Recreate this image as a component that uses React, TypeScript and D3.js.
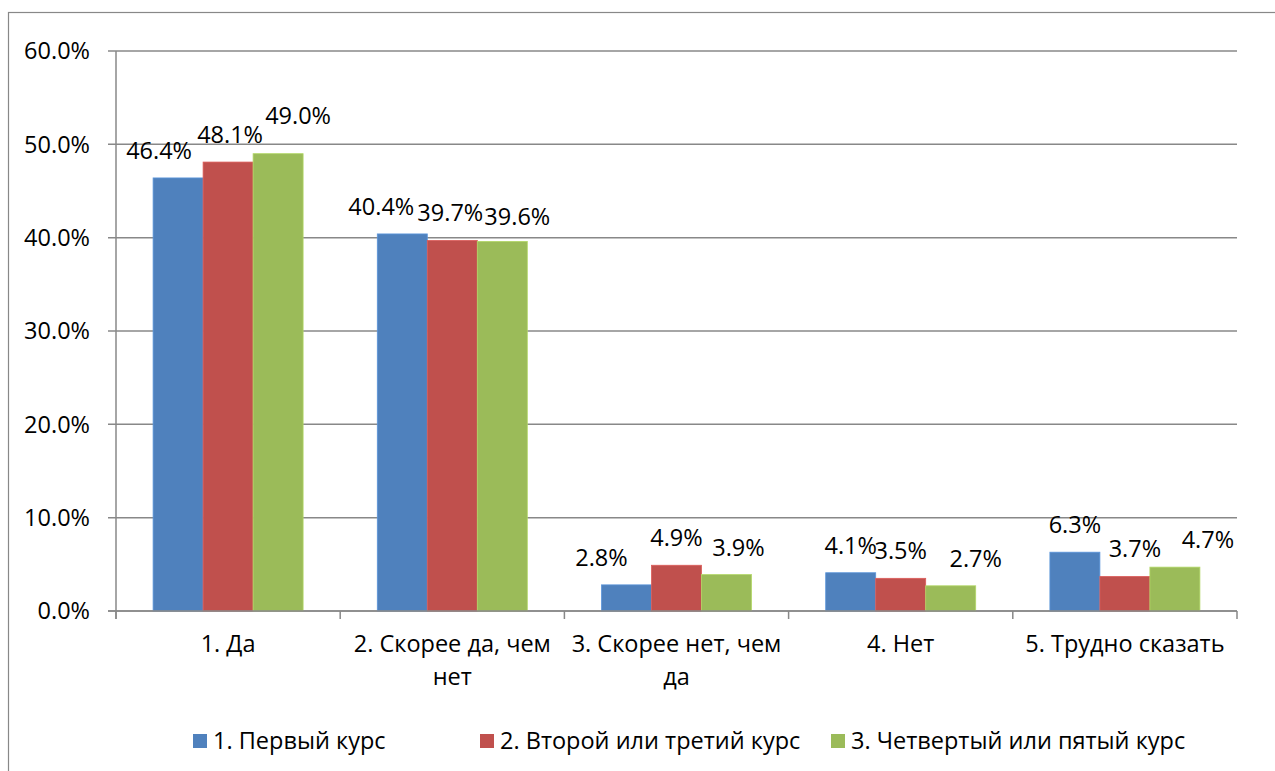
import React, { useEffect, useRef } from "react";
import * as d3 from "d3";

const categories: string[][] = [
  ["1. Да"],
  ["2. Скорее да, чем", "нет"],
  ["3. Скорее нет, чем", "да"],
  ["4. Нет"],
  ["5. Трудно сказать"],
];
const seriesNames = ["1. Первый курс", "2. Второй или третий курс", "3. Четвертый или пятый курс"];
const firstYear = [0.464, 0.404, 0.028, 0.041, 0.063];
const secondThird = [0.481, 0.397, 0.049, 0.035, 0.037];
const fourthFifth = [0.49, 0.396, 0.039, 0.027, 0.047];
const yTicks = [0, 0.1, 0.2, 0.3, 0.4, 0.5, 0.6];

// label nudges (dx, dy) like the hand-moved excel labels
const labelNudge: number[][][] = [
  [[-19, 0], [2, 0], [20, -11]],
  [[-21, 0], [-2, 0], [15, 3]],
  [[-25, 0], [0, 0], [12, 0]],
  [[0, 0], [0, 0], [25, 0]],
  [[0, 0], [10, 0], [33, 0]],
];

const colors = ["#4F81BD", "#C0504D", "#9BBB59"];
const font = "'Open Sans', sans-serif";
const fs = 23.5;

function App() {
  const ref = useRef<SVGSVGElement>(null);

  useEffect(() => {
    const W = 1275, H = 771;
    const svg = d3.select(ref.current).attr("width", W).attr("height", H);
    svg.selectAll("*").remove();

    const left = 116, right = 1237, top = 51, bottom = 611;
    const values = [firstYear, secondThird, fourthFifth];
    const catIdx = categories.map((_, i) => String(i));

    // outer chart border
    svg.append("rect")
      .attr("x", 8.5).attr("y", 12.5)
      .attr("width", W).attr("height", H)
      .attr("fill", "white").attr("stroke", "#888").attr("stroke-width", 1.2);

    const x = d3.scaleBand().domain(catIdx).range([left, right]).paddingInner(0).paddingOuter(0);
    const xs = d3.scaleBand().domain(["0", "1", "2"]).range([0, x.bandwidth()]).paddingInner(0).paddingOuter(0.742);
    const y = d3.scaleLinear().domain([0, 0.6]).range([bottom, top]);

    // gridlines
    svg.append("g").selectAll("line").data(yTicks).join("line")
      .attr("x1", left - 8).attr("x2", right)
      .attr("y1", (d) => y(d)).attr("y2", (d) => y(d))
      .attr("stroke", "#888").attr("stroke-width", 1.5);

    // y labels
    svg.append("g").selectAll("text").data(yTicks).join("text")
      .attr("x", 90).attr("y", (d) => y(d))
      .attr("dy", "0.36em")
      .attr("text-anchor", "end")
      .attr("font-family", font).attr("font-size", fs)
      .attr("fill", "#000")
      .text((d) => d3.format(".1%")(d));

    // axes lines
    svg.append("line").attr("x1", left).attr("x2", left).attr("y1", top).attr("y2", bottom + 8)
      .attr("stroke", "#888").attr("stroke-width", 1.5);
    svg.append("g").selectAll("line").data(d3.range(categories.length + 1)).join("line")
      .attr("x1", (i) => left + i * x.step()).attr("x2", (i) => left + i * x.step())
      .attr("y1", bottom).attr("y2", bottom + 8)
      .attr("stroke", "#888").attr("stroke-width", 1.5);

    // bars
    values.forEach((vals, s) => {
      svg.append("g").selectAll("rect").data(vals).join("rect")
        .attr("x", (_, i) => (x(String(i)) as number) + (xs(String(s)) as number))
        .attr("y", (d) => y(d))
        .attr("width", xs.bandwidth())
        .attr("height", (d) => bottom - y(d))
        .attr("fill", colors[s])
        .attr("stroke", d3.color(colors[s])!.brighter(0.4).toString())
        .attr("stroke-width", 0.8);
    });

    // bottom axis line on top of bars
    svg.append("line").attr("x1", left - 8).attr("x2", right).attr("y1", bottom).attr("y2", bottom)
      .attr("stroke", "#888").attr("stroke-width", 1.5);

    // data labels
    values.forEach((vals, s) => {
      svg.append("g").selectAll("text").data(vals).join("text")
        .attr("x", (_, i) => (x(String(i)) as number) + (xs(String(s)) as number) + xs.bandwidth() / 2 + labelNudge[i][s][0])
        .attr("y", (d, i) => y(d) - 19 + labelNudge[i][s][1])
        .attr("text-anchor", "middle")
        .attr("font-family", font).attr("font-size", fs)
        .attr("fill", "#000")
        .text((d) => d3.format(".1%")(d));
    });

    // category labels
    const cat = svg.append("g").selectAll("text").data(categories).join("text")
      .attr("x", (_, i) => (x(String(i)) as number) + x.bandwidth() / 2)
      .attr("y", 652)
      .attr("text-anchor", "middle")
      .attr("font-family", font).attr("font-size", fs)
      .attr("fill", "#000");
    cat.selectAll("tspan").data((d) => d).join("tspan")
      .attr("x", function () { return (this as any).parentNode.getAttribute("x"); })
      .attr("dy", (_, j) => (j === 0 ? 0 : 33))
      .text((d) => d);

    // legend
    const legendX = [193, 480, 831];
    const lg = svg.append("g").selectAll("g").data(seriesNames).join("g")
      .attr("transform", (_, i) => `translate(${legendX[i]},734)`);
    lg.append("rect").attr("width", 14).attr("height", 14).attr("fill", (_, i) => colors[i]);
    lg.append("text").attr("x", 20).attr("y", 7).attr("dy", "0.36em")
      .attr("font-family", font).attr("font-size", fs).attr("fill", "#000")
      .text((d) => d);
  }, []);

  return (
    <svg ref={ref} style={{ position: "absolute", left: 0, top: 0, display: "block" }}></svg>
  );
}

export default App;
